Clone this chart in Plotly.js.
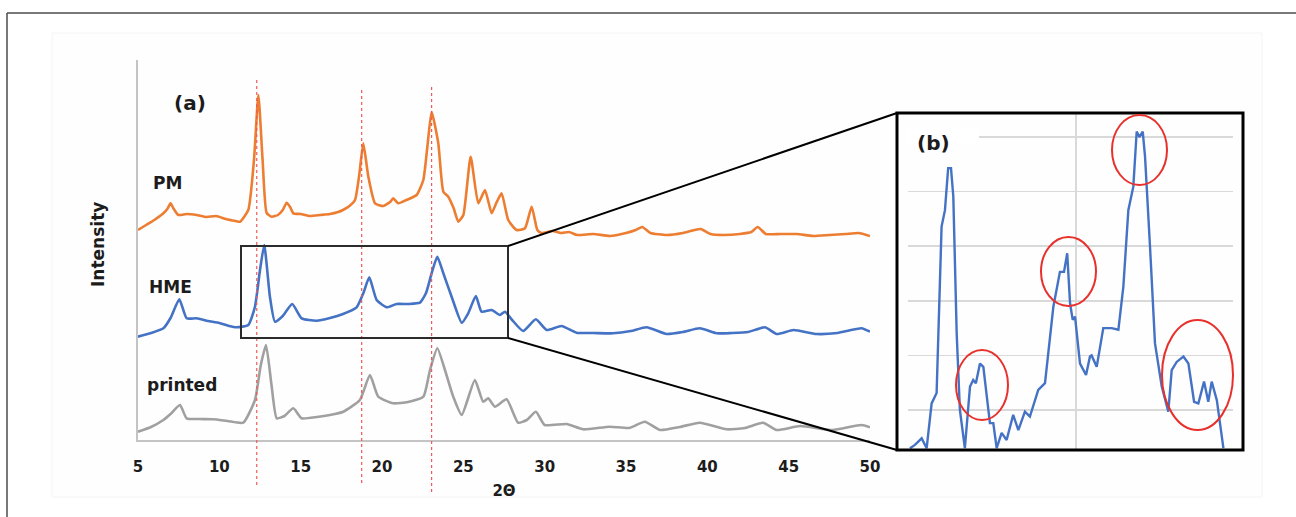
<!DOCTYPE html>
<html>
<head>
<meta charset="utf-8">
<script src="https://cdn.plot.ly/plotly-3.0.1.min.js"></script>
<style>html,body{margin:0;padding:0;background:#fff;}#chart{width:1296px;height:517px;}</style>
</head>
<body>
<div id="chart"></div>
<script>
// ---- data (2θ in degrees, intensity in arbitrary offset units) ----
const pmX = [5.0,5.5,6.0,6.56,6.8,7.0,7.2,7.48,8.0,8.6,9.2,9.8,10.4,11.0,11.27,11.78,12.13,12.4,12.66,12.91,13.22,13.6,13.9,14.14,14.35,14.55,15.0,15.57,16.2,16.8,17.3,17.6,18.0,18.34,18.6,18.85,19.16,19.57,20.08,20.5,20.69,21.0,21.5,22.13,22.54,22.8,23.05,23.46,23.77,24.07,24.4,24.69,25.0,25.45,25.92,26.33,26.74,27.0,27.35,27.76,28.27,28.79,29.2,29.55,29.8,30.5,31.0,31.5,32.0,33.0,34.0,35.0,35.6,36.0,36.5,37.5,38.5,39.2,39.6,40.2,41.0,42.0,42.7,43.1,43.6,44.5,45.5,46.5,47.5,48.5,49.3,50.0];
const pmY = [210,215,220,226.7,231,236.7,231,225,226,225,223,224,221,219,218.3,230,280,345,280,227,223.3,225,230,237.3,233,226.7,226,224,225,226,228,230,234,240,265,296.7,263.3,236.7,234,238,241.7,236.7,240,245,260,295,328.3,296.7,248.3,243.3,232,218.3,225,283.3,236.7,250,226.7,236,246.7,220,210,211.7,233.3,210,207,209,207,208,205,206,204,207,210,213,207,205,207,210,211,206,205,206,208,213,206,206,206,204,205,206,207,204];

const hmeX = [5.0,5.8,6.56,7.0,7.54,7.99,8.6,9.3,10.0,10.6,11.06,11.78,12.19,12.5,12.76,13.11,13.42,13.9,14.48,15.06,15.98,16.8,17.6,18.44,18.85,19.22,19.67,20.29,20.9,21.6,22.33,22.7,23.05,23.4,23.77,24.28,24.9,25.3,25.77,26.12,26.74,27.25,27.56,28.0,28.68,29.46,30.12,31.04,31.96,33.0,34.2,35.3,36.27,37.5,38.5,39.54,40.57,41.5,42.5,43.54,44.26,45.3,46.7,48.0,49.48,50.0];
const hmeY = [103.3,107,111.7,122,140.7,121.7,121.7,119,117,114,112.7,115,133.3,170,195,143.3,118.3,124,136,121.7,119.3,122,126,132.7,146.7,162.7,140,132.7,136,136,137.3,146.7,166.7,183.3,166.7,143.3,117.3,126.7,144,128.3,130,125,128.3,120,109,120.7,110,114,107.3,107,106.7,109,112.7,106,108,111.7,106.7,107,108,112.7,106,110,106,107,111.7,108.3];

const prX = [5.0,5.8,6.56,7.0,7.58,7.99,8.8,9.63,10.5,11.47,12.19,12.55,12.87,13.22,13.53,14.0,14.55,15.06,16.0,16.8,17.62,18.64,19.26,19.77,20.69,21.6,22.54,22.95,23.4,23.87,24.38,24.9,25.71,26.22,26.53,26.94,27.66,28.37,28.9,29.46,30.0,31.35,32.37,34.0,35.2,36.16,37.08,38.3,39.54,41.18,42.3,43.43,44.26,45.7,47.7,49.48,50.0];
const prY = [8.3,13,20,26,35,21.7,21,20.7,19,17.3,40,75,95,53.3,21.7,24,31.7,21.7,23,25,28.3,40,65,43.3,36.7,38,43.3,70,91.7,70,43.3,25,60,38.3,41.7,33.3,40.7,17.3,20,28.3,15,16,10.7,13.3,12,18.3,10,13,17.3,10.7,12,17.3,10,14,10,15,12.7];

// inset (b): zoomed HME pattern, own vertical scale
const insetX = [10.45,10.73,11.11,11.39,11.67,11.95,12.23,12.42,12.6,12.76,12.89,13.08,13.26,13.54,13.83,14.01,14.16,14.39,14.58,14.77,14.95,15.14,15.33,15.61,15.89,16.26,16.55,16.92,17.2,17.67,18.05,18.52,18.89,19.12,19.3,19.46,19.61,19.74,20.02,20.36,20.58,20.67,20.96,21.33,21.8,22.18,22.46,22.74,23.02,23.21,23.36,23.55,23.68,23.96,24.24,24.62,24.99,25.18,25.46,25.84,26.12,26.44,26.68,27.0,27.24,27.43,27.72,28.09];
const insetY = [0.30,0.36,0.48,0.30,1.12,1.31,4.36,4.66,5.43,5.43,4.91,2.40,1.0,0.30,1.43,1.55,1.49,1.85,1.79,1.31,0.76,0.76,0.30,0.58,0.45,0.91,0.63,0.97,0.88,1.37,1.49,2.89,3.53,3.53,3.87,2.95,2.65,2.71,1.85,1.64,1.98,2.0,1.79,2.50,2.50,2.47,3.26,4.66,5.09,6.10,6.0,6.10,5.64,3.99,2.22,1.43,0.97,1.73,1.88,1.98,1.85,1.15,1.12,1.52,1.15,1.52,1.18,0.30];
const insetGridX = [19.8];

const tickVals = [5,10,15,20,25,30,35,40,45,50];
const tickText = ['5','10','15','20','25','30','35','40','45','50'];
const refLinesX = [12.3,18.75,23.05];
const seriesNames = ['PM','HME','printed'];

// ---- helpers for pixel placement of decorations ----
const W = 1296, H = 517;
const px = v => v / W;
const py = v => 1 - v / H;
const FONT = 'DejaVu Sans, Liberation Sans, sans-serif';
const TXT = '#1c1c1c';

const lineStyle = (c, smooth) => smooth ? {color: c, width: 2.6, shape: 'spline', smoothing: 0.5} : {color: c, width: 2.4};
const traces = [
  {x: pmX, y: pmY, type: 'scatter', mode: 'lines', name: seriesNames[0], line: lineStyle('#ED7D31', true), xaxis: 'x', yaxis: 'y'},
  {x: hmeX, y: hmeY, type: 'scatter', mode: 'lines', name: seriesNames[1], line: lineStyle('#4472C4', true), xaxis: 'x', yaxis: 'y'},
  {x: prX, y: prY, type: 'scatter', mode: 'lines', name: seriesNames[2], line: lineStyle('#A0A0A0', true), xaxis: 'x', yaxis: 'y'},
  {x: insetX, y: insetY, type: 'scatter', mode: 'lines', name: 'HME (zoom)', line: lineStyle('#4472C4', false), xaxis: 'x2', yaxis: 'y2'}
];

const shapes = [];
// pale inner panel
shapes.push({type: 'rect', xref: 'paper', yref: 'paper', x0: px(52), x1: px(1262), y0: py(33), y1: py(497), fillcolor: '#fefefe', line: {color: '#f4f4f4', width: 1}, layer: 'below'});
// outer frame (top and left edges visible)
shapes.push({type: 'line', xref: 'paper', yref: 'paper', x0: px(7), x1: px(1300), y0: py(13), y1: py(13), line: {color: '#4d4d4d', width: 1.5}});
shapes.push({type: 'line', xref: 'paper', yref: 'paper', x0: px(7), x1: px(7), y0: py(13), y1: py(520), line: {color: '#4d4d4d', width: 1.5}});
// red dotted reference lines
const refTops = [78, 88, 84], refBottoms = [485, 483, 492];
refLinesX.forEach((xv, i) => shapes.push({type: 'line', xref: 'x', yref: 'paper', x0: xv, x1: xv, y0: py(refBottoms[i]), y1: py(refTops[i]), line: {color: '#f05a5a', width: 1.2, dash: 'dot'}, layer: 'above'}));
// zoom box around HME
shapes.push({type: 'rect', xref: 'paper', yref: 'paper', x0: px(241), x1: px(508), y0: py(338), y1: py(246), line: {color: '#2b2b2b', width: 2}});
// connectors
shapes.push({type: 'line', xref: 'paper', yref: 'paper', x0: px(508), y0: py(246), x1: px(897), y1: py(113), line: {color: '#000', width: 2}});
shapes.push({type: 'line', xref: 'paper', yref: 'paper', x0: px(508), y0: py(338), x1: px(897), y1: py(450), line: {color: '#000', width: 2}});
// inset frame
shapes.push({type: 'rect', xref: 'paper', yref: 'paper', x0: px(897), x1: px(1243), y0: py(450), y1: py(113), line: {color: '#000', width: 3}});
// white patch behind (b) label
shapes.push({type: 'rect', xref: 'paper', yref: 'paper', x0: px(906), x1: px(979), y0: py(145), y1: py(128), fillcolor: '#fff', line: {width: 0}, layer: 'above'});
// red ellipses
const ell = [[956, 1008, 350, 420], [1041, 1096, 237, 306], [1112, 1167, 115, 185], [1162, 1233, 320, 430]];
ell.forEach(e => shapes.push({type: 'circle', xref: 'paper', yref: 'paper', x0: px(e[0]), x1: px(e[1]), y0: py(e[3]), y1: py(e[2]), line: {color: '#e8302c', width: 2}, layer: 'above'}));

const ann = (text, x, y, size, extra) => Object.assign({text, xref: 'paper', yref: 'paper', x: px(x), y: py(y), showarrow: false, xanchor: 'center', yanchor: 'middle', font: {family: FONT, size, color: TXT, weight: 'bold'}}, extra || {});
const annotations = [
  ann('<b>(a)</b>', 190, 103, 20),
  ann('<b>' + seriesNames[0] + '</b>', 167, 183, 17),
  ann('<b>' + seriesNames[1] + '</b>', 170, 287, 17),
  ann('<b>' + seriesNames[2] + '</b>', 182, 385, 17),
  ann('<b>Intensity</b>', 98, 245, 17, {textangle: -90}),
  ann('<b>(b)</b>', 933, 143, 20)
];

const layout = {
  width: W, height: H,
  margin: {l: 0, r: 0, t: 0, b: 0},
  paper_bgcolor: '#ffffff', plot_bgcolor: 'rgba(0,0,0,0)',
  showlegend: false,
  xaxis: {domain: [px(138), px(870)], range: [5, 50], tickvals: tickVals, ticktext: tickText, ticks: '', showgrid: false, zeroline: false,
          showline: true, linecolor: '#c4c4c4', linewidth: 2, ticklabelstandoff: 12,
          tickfont: {family: FONT, size: 15, color: TXT, weight: 'bold'},
          title: {text: '<b>2Θ</b>', font: {family: FONT, size: 15, color: TXT}, standoff: 10}},
  yaxis: {domain: [py(440), py(60)], range: [0, 380], showticklabels: false, ticks: '', showgrid: false, zeroline: false,
          showline: true, linecolor: '#c4c4c4', linewidth: 2},
  xaxis2: {domain: [px(908), px(1233)], range: [10.34, 28.63], anchor: 'y2', tickvals: insetGridX, showticklabels: false, ticks: '',
           showgrid: true, gridcolor: '#d9d9d9', gridwidth: 1.5, zeroline: false, showline: false},
  yaxis2: {domain: [py(450), py(112)], range: [0.267, 6.458], anchor: 'x2', dtick: 1, tick0: 0, showticklabels: false, ticks: '',
           showgrid: true, gridcolor: '#d9d9d9', gridwidth: 1.5, zeroline: false, showline: false},
  shapes, annotations
};

Plotly.newPlot('chart', traces, layout, {displayModeBar: false, staticPlot: true});
</script>
</body>
</html>
